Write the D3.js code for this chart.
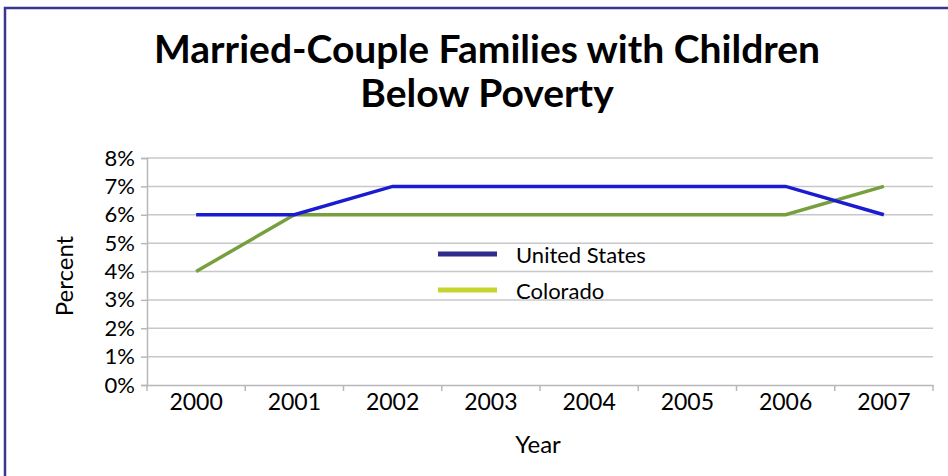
<!DOCTYPE html>
<html>
<head>
<meta charset="utf-8">
<script src="https://cdn.jsdelivr.net/npm/d3@7"></script>
<style>
  body { margin: 0; background: #fff; }
  text { font-family: Lato, "Open Sans", sans-serif; fill: #000; }
</style>
</head>
<body>
<script>
var w = 948;
var h = 476;

var years = ["2000", "2001", "2002", "2003", "2004", "2005", "2006", "2007"];
var usValues = [6, 6, 7, 7, 7, 7, 7, 6];
var coValues = [4, 6, 6, 6, 6, 6, 6, 7];
var yTicks = [0, 1, 2, 3, 4, 5, 6, 7, 8];
var seriesNames = ["United States", "Colorado"];

var margin = {left: 147, right: 15, top: 158, bottom: 91};

var svg = d3.select("body").append("svg").attr("width", w).attr("height", h);

// frame
svg.append("path")
  .attr("d", "M5," + h + "V8H" + w)
  .attr("fill", "none")
  .attr("stroke", "#3a3590")
  .attr("stroke-width", 2.5);

// title
var title = svg.append("text")
  .attr("text-anchor", "middle")
  .style("font-size", "39px")
  .style("font-weight", "bold");
title.append("tspan").attr("x", 487).attr("y", 63).text("Married-Couple Families with Children");
title.append("tspan").attr("x", 487).attr("y", 107).text("Below Poverty");

var xScale = d3.scaleBand()
  .domain(years)
  .range([margin.left, w - margin.right]);

var yScale = d3.scaleLinear()
  .domain([0, 8])
  .range([h - margin.bottom, margin.top]);

// gridlines
svg.append("g")
  .selectAll("line")
  .data(yTicks.slice(1))
  .enter().append("line")
  .attr("x1", margin.left)
  .attr("x2", w - margin.right)
  .attr("y1", function(d) { return yScale(d); })
  .attr("y2", function(d) { return yScale(d); })
  .attr("stroke", "#c8c8cc")
  .attr("stroke-width", 1.5);

// y axis
var yAxis = svg.append("g")
  .attr("transform", "translate(" + margin.left + ",0)")
  .call(d3.axisLeft(yScale)
    .tickValues(yTicks)
    .tickSize(6)
    .tickPadding(6)
    .tickFormat(function(d) { return d + "%"; }));
yAxis.select(".domain").attr("stroke", "#b8b8bc").attr("stroke-width", 1.5);
yAxis.selectAll(".tick line").attr("stroke", "#b8b8bc").attr("stroke-width", 1.5);
yAxis.selectAll(".tick text")
  .style("font-size", "22px")
  .attr("fill", "#000");

// x axis
var xAxis = svg.append("g")
  .attr("transform", "translate(0," + yScale(0) + ")")
  .call(d3.axisBottom(xScale).tickSize(0).tickPadding(9));
xAxis.select(".domain").attr("stroke", "#b8b8bc").attr("stroke-width", 1.5);
xAxis.selectAll(".tick text")
  .style("font-size", "23px")
  .attr("fill", "#000");

// tick marks between categories
xAxis.append("g")
  .selectAll("line")
  .data(years.concat(["end"]))
  .enter().append("line")
  .attr("x1", function(d, i) { return margin.left + i * xScale.bandwidth(); })
  .attr("x2", function(d, i) { return margin.left + i * xScale.bandwidth(); })
  .attr("y1", 0)
  .attr("y2", 6)
  .attr("stroke", "#b8b8bc")
  .attr("stroke-width", 1.5);

// axis titles
svg.append("text")
  .attr("transform", "translate(73,276) rotate(-90)")
  .attr("text-anchor", "middle")
  .style("font-size", "24px")
  .text("Percent");

svg.append("text")
  .attr("x", 538)
  .attr("y", 453)
  .attr("text-anchor", "middle")
  .style("font-size", "24px")
  .text("Year");

// lines
var line = d3.line()
  .x(function(d, i) { return xScale(years[i]) + xScale.bandwidth() / 2; })
  .y(function(d) { return yScale(d); });

svg.append("path")
  .datum(coValues)
  .attr("d", line)
  .attr("fill", "none")
  .attr("stroke", "#76a03e")
  .attr("stroke-width", 3.5);

svg.append("path")
  .datum(usValues)
  .attr("d", line)
  .attr("fill", "none")
  .attr("stroke", "#1b1bcf")
  .attr("stroke-width", 3.5);

// legend
var legendColors = ["#2f2c8c", "#c3d52e"];
var legend = svg.append("g").selectAll("g")
  .data(seriesNames)
  .enter().append("g")
  .attr("transform", function(d, i) { return "translate(438," + (254 + i * 36) + ")"; });

legend.append("line")
  .attr("x1", 0)
  .attr("x2", 59)
  .attr("stroke", function(d, i) { return legendColors[i]; })
  .attr("stroke-width", 5);

legend.append("text")
  .attr("x", 78)
  .attr("y", 9)
  .style("font-size", "22px")
  .text(function(d) { return d; });
</script>
</body>
</html>
